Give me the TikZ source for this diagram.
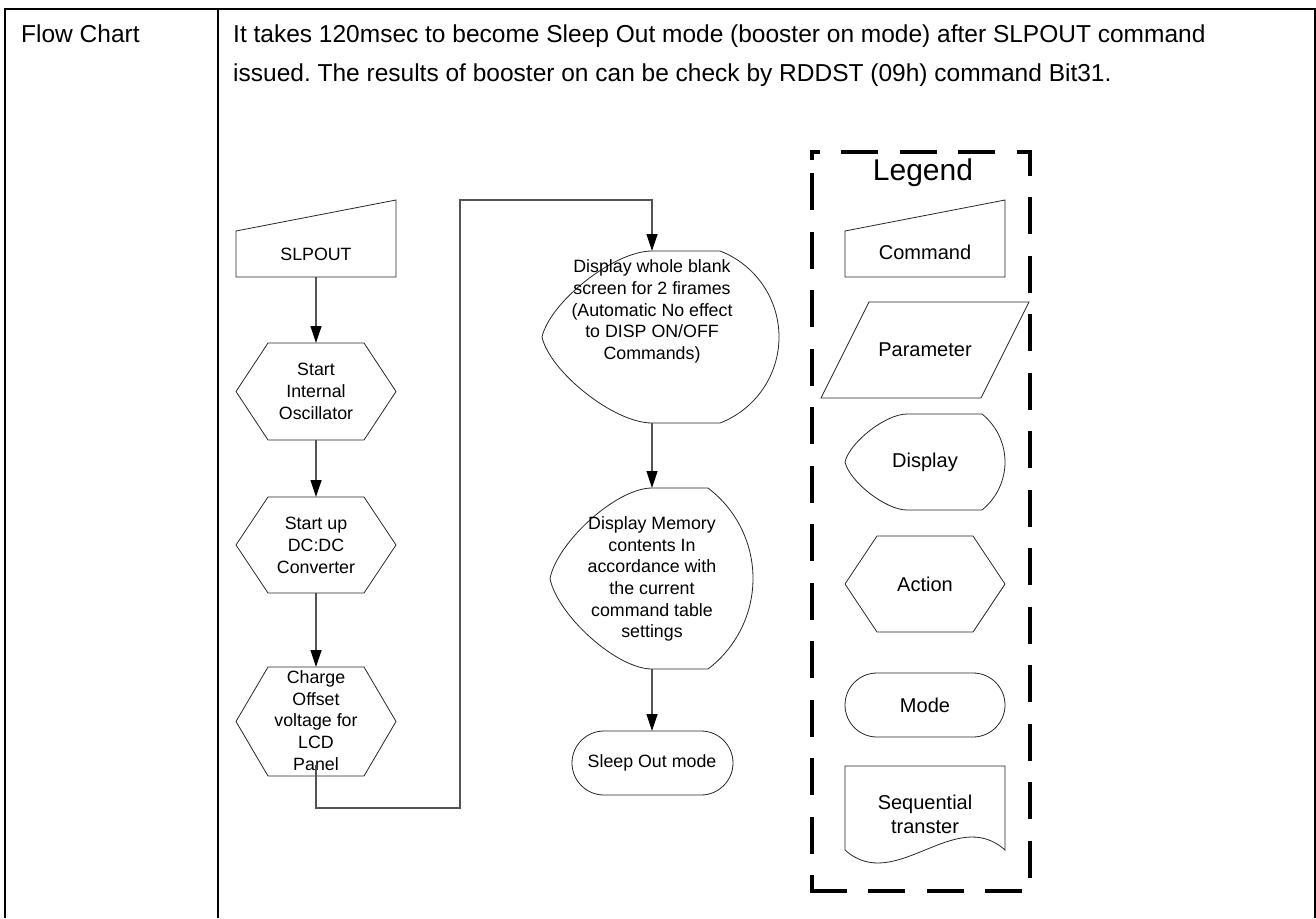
\documentclass[tikz,border=0pt]{standalone}
\usepackage{fontspec}
\setmainfont{Liberation Sans}
\usetikzlibrary{arrows.meta}
\frenchspacing
\begin{document}
\begin{tikzpicture}[x=1pt,y=-1pt,
  shp/.style={draw=black!85,line width=0.8pt},
  conn/.style={draw=black!68,line width=1.2pt},
  arr/.style={conn,-{Triangle[length=17pt,width=11pt,color=black]}},
  tbl/.style={draw=black,line width=2.2pt},
  hdrtxt/.style={font=\fontsize{24.5}{39}\selectfont,anchor=base west,inner sep=0pt},
  flowtxt/.style={font=\fontsize{17.8}{21.7}\selectfont,align=center,inner sep=0pt},
  legtxt/.style={font=\fontsize{20}{24.3}\selectfont,align=center,inner sep=0pt},
  legtitle/.style={font=\fontsize{30}{36}\selectfont,inner sep=0pt},
  legbox/.style={draw=black,line width=4pt,dash pattern=on 37pt off 21.5pt}]
\useasboundingbox (0,0) rectangle (1316,918);
% table
\draw[tbl] (5,918) -- (5,8.7) -- (1316,8.7);
\draw[tbl] (1315.5,8.7) -- (1315.5,918);
\draw[tbl] (218.3,8.7) -- (218.3,918);
\node[hdrtxt] (tfc) at (21,42.7) {Flow Chart};
\node[hdrtxt] (tl1) at (233,42.7) {It takes 120msec to become Sleep Out mode (booster on mode) after SLPOUT command};
\node[hdrtxt] (tl2) at (233,81.7) {issued. The results of booster on can be check by RDDST (09h) command Bit31.};
% ---- flow chart shapes
\draw[shp] (236,231) -- (396,200) -- (396,277) -- (236,277) -- cycle;
\draw[shp] (236,391.5) -- (268,343) -- (364,343) -- (396,391.5) -- (364,440) -- (268,440) -- cycle;
\draw[shp] (236,545) -- (268,497) -- (364,497) -- (396,545) -- (364,593) -- (268,593) -- cycle;
\draw[shp] (236,721.5) -- (268,667) -- (364,667) -- (396,721.5) -- (364,776) -- (268,776) -- cycle;
% display 1
\draw[shp] (652,251) -- (720,251) .. controls (755.5,264.7) and (779,298.9) .. (779,337)
  .. controls (779,375.1) and (755.5,409.3) .. (720,423) -- (652,423)
  .. controls (613.5,423) and (549.7,371.4) .. (542,337)
  .. controls (549.7,302.6) and (613.5,251) .. cycle;
% display 2
\draw[shp] (652,488) -- (708,488) .. controls (736.2,509.4) and (753,542.9) .. (753,578.5)
  .. controls (753,614.1) and (736.2,647.6) .. (708,669) -- (652,669)
  .. controls (616.3,669) and (557.1,614.7) .. (550,578.5)
  .. controls (557.1,542.3) and (616.3,488) .. cycle;
% sleep out mode
\draw[shp,rounded corners=32pt] (572,731) rectangle (733,795);
% ---- flow texts
\node[flowtxt] (slpout) at (316,254) {SLPOUT};
\node[flowtxt] (osc) at (316,391.5) {Start\\Internal\\Oscillator};
\node[flowtxt] (dcdc) at (316,545.5) {Start up\\DC:DC\\Converter};
\node[flowtxt] (chg) at (316,720.5) {Charge\\Offset\\voltage for\\LCD\\Panel};
\node[flowtxt] (disp1) at (652,311.5) {Display whole blank\\screen for 2 firames\\(Automatic No effect\\to DISP ON/OFF\\Commands)};
\node[flowtxt] (disp2) at (652,579) {Display Memory\\contents In\\accordance with\\the current\\command table\\settings};
\node[flowtxt] (sleep) at (652,763) {Sleep Out mode};
% ---- connector anchors
\coordinate (slpB) at (316,277);
\coordinate (oscT) at (316,343);
\coordinate (oscB) at (316,440);
\coordinate (dcT) at (316,497);
\coordinate (dcB) at (316,593);
\coordinate (chT) at (316,667);
\coordinate (chB) at (316,765);
\coordinate (k1) at (316,808);
\coordinate (k2) at (460,808);
\coordinate (k3) at (460,200);
\coordinate (k4) at (652,200);
\coordinate (d1T) at (652,251);
\coordinate (d1B) at (652,423);
\coordinate (d2T) at (652,488);
\coordinate (d2B) at (652,669);
\coordinate (slT) at (652,731);
\draw[arr] (slpB) -- (oscT);
\draw[arr] (oscB) -- (dcT);
\draw[arr] (dcB) -- (chT);
\draw[arr] (chB) -- (k1) -- (k2) -- (k3) -- (k4) -- (d1T);
\draw[arr] (d1B) -- (d2T);
\draw[arr] (d2B) -- (slT);
% ---- legend
\draw[legbox,dash phase=27.5pt] (810,152) -- (1030,152) -- (1030,891) -- (812,891);
\draw[legbox,dash phase=19pt] (812,893) -- (812,152);
\draw[draw=black,line width=4pt] (812,150) -- (812,160);
\node[legtitle] (lg) at (923,173) {Legend};
\draw[shp] (845,231) -- (1005,200) -- (1005,277) -- (845,277) -- cycle;
\node[legtxt] (lcmd) at (925,252.5) {Command};
\draw[shp] (869,302) -- (1029,302) -- (981,398) -- (821,398) -- cycle;
\node[legtxt] (lpar) at (925,350) {Parameter};
\draw[shp] (907,414) -- (982,414) .. controls (996.5,425.7) and (1005,443.3) .. (1005,462)
  .. controls (1005,480.7) and (996.5,498.3) .. (982,510) -- (907,510)
  .. controls (885.3,510) and (849.3,481.2) .. (845,462)
  .. controls (849.3,442.8) and (885.3,414) .. cycle;
\node[legtxt] (ldisp) at (925,462) {Display};
\draw[shp] (845,584) -- (877,536) -- (973,536) -- (1005,584) -- (973,632) -- (877,632) -- cycle;
\node[legtxt] (lact) at (925,584) {Action};
\draw[shp,rounded corners=32pt] (845,673) rectangle (1005,737);
\node[legtxt] (lmode) at (925,705) {Mode};
\draw[shp] (845,766) -- (1005,766) -- (1005,850) .. controls (955,805) and (895,895) .. (845,850) -- cycle;
\node[legtxt] (lseq) at (925,814) {Sequential\\transter};
\end{tikzpicture}
\end{document}
